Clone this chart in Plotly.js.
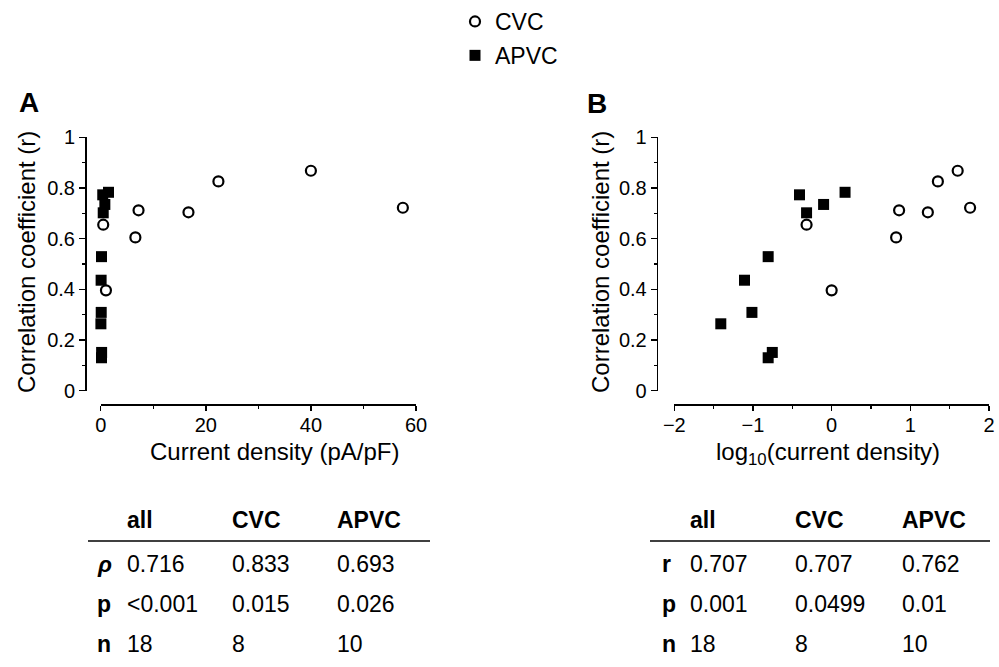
<!DOCTYPE html>
<html>
<head>
<meta charset="utf-8">
<script src="https://cdn.plot.ly/plotly-3.0.1.min.js"></script>
<style>html,body{margin:0;padding:0;background:#fff;}#chart{width:999px;height:667px;}</style>
</head>
<body>
<div id="chart"></div>
<script>
// ---- data ----
const cvcDensity = [40.0, 57.5, 22.4, 16.7, 7.2, 6.6, 0.48, 1.0];      // pA/pF
const cvcR       = [0.868, 0.722, 0.826, 0.704, 0.712, 0.605, 0.655, 0.396];
const apvcDensity = [0.39, 0.48, 0.79, 1.48, 0.156, 0.078, 0.097, 0.039, 0.156, 0.176];
const apvcR       = [0.773, 0.702, 0.735, 0.783, 0.529, 0.436, 0.309, 0.264, 0.130, 0.151];

const tableHeader = ['all', 'CVC', 'APVC'];
const tableA_labels = ['ρ', 'p', 'n'];
const tableA_rows = [['0.716', '0.833', '0.693'], ['<0.001', '0.015', '0.026'], ['18', '8', '10']];
const tableB_labels = ['r', 'p', 'n'];
const tableB_rows = [['0.707', '0.707', '0.762'], ['0.001', '0.0499', '0.01'], ['18', '8', '10']];

const W = 999, H = 667;
const px = v => v / W;
const py = v => 1 - v / H;
const FONT = 'Liberation Sans, Arial, Helvetica, sans-serif';

const cvcMarker = {symbol: 'circle-open', size: 10, color: '#000', line: {width: 2.2, color: '#000'}};
const apvcMarker = {symbol: 'square', size: 11, color: '#000'};

const traces = [
  {x: cvcDensity, y: cvcR, xaxis: 'x', yaxis: 'y', mode: 'markers', type: 'scatter', name: 'CVC',
   marker: cvcMarker, cliponaxis: false, legendgroup: 'g1', showlegend: true},
  {x: apvcDensity, y: apvcR, xaxis: 'x', yaxis: 'y', mode: 'markers', type: 'scatter', name: 'APVC',
   marker: apvcMarker, cliponaxis: false, legendgroup: 'g2', showlegend: true},
  {x: cvcDensity.map(Math.log10), y: cvcR, xaxis: 'x2', yaxis: 'y2', mode: 'markers', type: 'scatter', name: 'CVC',
   marker: cvcMarker, cliponaxis: false, legendgroup: 'g1', showlegend: false},
  {x: apvcDensity.map(Math.log10), y: apvcR, xaxis: 'x2', yaxis: 'y2', mode: 'markers', type: 'scatter', name: 'APVC',
   marker: apvcMarker, cliponaxis: false, legendgroup: 'g2', showlegend: false}
];

const axisCommon = {
  showgrid: false, zeroline: false, showline: true, linecolor: '#000', linewidth: 1.5,
  ticks: 'outside', ticklen: 6, tickwidth: 1.5, tickcolor: '#000',
  tickfont: {family: FONT, size: 20, color: '#000'}, fixedrange: true
};
const yDomain = [1 - 390.7 / H, 1 - 137.3 / H];
const xAxisPos = 1 - 404 / H;

const layout = {
  width: W, height: H,
  margin: {l: 0, r: 0, t: 0, b: 0},
  paper_bgcolor: '#fff', plot_bgcolor: 'rgba(0,0,0,0)',
  font: {family: FONT, color: '#000'},
  showlegend: true,
  legend: {x: px(455), y: 1, xanchor: 'left', yanchor: 'top', traceorder: 'grouped', tracegroupgap: 1,
           font: {family: FONT, size: 23, color: '#000'}, bgcolor: 'rgba(0,0,0,0)'},
  xaxis: Object.assign({}, axisCommon, {domain: [px(100.7), px(416)], range: [0, 60], dtick: 20, tick0: 0,
          anchor: 'free', position: xAxisPos, ticklen: 5, ticklabelstandoff: -3,
          minor: {ticks: 'outside', dtick: 10, tick0: 0, ticklen: 3, tickwidth: 1.5, tickcolor: '#000'}}),
  yaxis: Object.assign({}, axisCommon, {domain: yDomain, range: [0, 1], dtick: 0.2, tick0: 0,
          anchor: 'free', position: px(85),
          minor: {ticks: 'outside', dtick: 0.1, tick0: 0, ticklen: 3, tickwidth: 1.5, tickcolor: '#000'}}),
  xaxis2: Object.assign({}, axisCommon, {domain: [px(674.3), px(989)], range: [-2, 2], dtick: 1, tick0: 0,
          anchor: 'free', position: xAxisPos, ticklen: 5, ticklabelstandoff: -3,
          minor: {ticks: 'outside', dtick: 0.5, tick0: 0, ticklen: 3, tickwidth: 1.5, tickcolor: '#000'}}),
  yaxis2: Object.assign({}, axisCommon, {domain: yDomain, range: [0, 1], dtick: 0.2, tick0: 0,
          anchor: 'free', position: px(656.7),
          minor: {ticks: 'outside', dtick: 0.1, tick0: 0, ticklen: 3, tickwidth: 1.5, tickcolor: '#000'}}),
  annotations: [],
  shapes: []
};

function ann(text, x, y, opts) {
  layout.annotations.push(Object.assign({
    text: text, xref: 'paper', yref: 'paper', x: px(x), y: py(y),
    xanchor: 'left', yanchor: 'middle', showarrow: false,
    font: {family: FONT, size: 23, color: '#000'}
  }, opts || {}));
}

// panel labels
ann('<b>A</b>', 17, 103, {font: {family: FONT, size: 28, color: '#000'}});
ann('<b>B</b>', 585, 104, {font: {family: FONT, size: 28, color: '#000'}});
// axis titles
ann('Current density (pA/pF)', 274, 452, {xanchor: 'center', font: {family: FONT, size: 24, color: '#000'}});
ann('log<sub>10</sub>(current density)', 828, 453, {xanchor: 'center', font: {family: FONT, size: 24, color: '#000'}});
ann('Correlation coefficient (r)', 27, 262, {xanchor: 'center', textangle: -90, font: {family: FONT, size: 24, color: '#000'}});
ann('Correlation coefficient (r)', 601, 262, {xanchor: 'center', textangle: -90, font: {family: FONT, size: 24, color: '#000'}});

// tables
function table(labels, rows, labelX, colX, lineX0, lineX1, italicFirst) {
  const headerY = 520, lineY = 541, rowY = [564, 604, 644];
  tableHeader.forEach((h, i) => ann('<b>' + h + '</b>', colX[i], headerY));
  layout.shapes.push({type: 'line', xref: 'paper', yref: 'paper', x0: px(lineX0), x1: px(lineX1),
                      y0: py(lineY), y1: py(lineY), line: {color: '#000', width: 1.5}});
  labels.forEach((l, r) => {
    const t = (italicFirst && r === 0) ? '<b><i>' + l + '</i></b>' : '<b>' + l + '</b>';
    ann(t, labelX, rowY[r]);
    rows[r].forEach((v, c) => ann(v.replace('<', '&lt;'), colX[c], rowY[r]));
  });
}
table(tableA_labels, tableA_rows, 95, [125, 230, 335], 88, 430, true);
table(tableB_labels, tableB_rows, 660, [688, 793, 900], 650, 990, false);

Plotly.newPlot('chart', traces, layout, {displayModeBar: false, staticPlot: true});
</script>
</body>
</html>
